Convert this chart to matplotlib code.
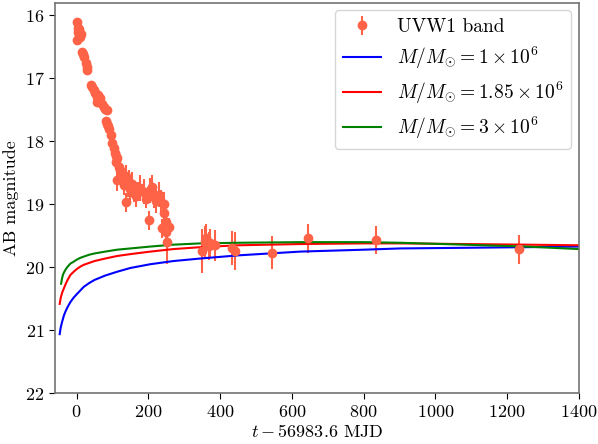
import numpy as np
import matplotlib
matplotlib.use('Agg')
import matplotlib.pyplot as plt

# Computer Modern look (LaTeX-like)
plt.rcParams['font.family'] = 'serif'
plt.rcParams['font.serif'] = ['cmr10', 'DejaVu Serif']
plt.rcParams['mathtext.fontset'] = 'cm'
plt.rcParams['axes.formatter.use_mathtext'] = True
plt.rcParams['axes.unicode_minus'] = False

# UVW1 photometry: time since 56983.6 MJD, AB magnitude, error
t_uvw1 = [0, 2, 3, 5, 6, 8, 11, 13, 16, 19, 22, 25, 28, 30, 41, 44, 48, 52, 56, 58,
          59, 65, 70, 76, 80, 81, 84, 86, 88, 90, 97, 100, 103, 106, 110, 111, 113, 114,
          118, 121, 124, 128, 130, 133, 137, 139, 144, 147, 150, 155, 160, 165, 172, 178,
          187, 193, 201, 205, 211, 215, 222, 230, 235, 239, 243, 245, 248, 250, 252, 257,
          350, 358, 362, 368, 373, 387, 434, 443, 545, 645, 835, 1234]
mag_uvw1 = [16.11, 16.40, 16.20, 16.26, 16.21, 16.31, 16.34, 16.29, 16.58, 16.62, 16.66,
            16.76, 16.82, 16.87, 17.11, 17.14, 17.19, 17.24, 17.30, 17.37, 17.27, 17.32,
            17.41, 17.45, 17.48, 17.67, 17.51, 17.72, 17.76, 17.80, 17.90, 18.03, 18.10,
            18.19, 18.24, 18.33, 18.61, 18.27, 18.40, 18.46, 18.52, 18.56, 18.62, 18.70,
            18.55, 18.97, 18.70, 18.64, 18.76, 18.68, 18.82, 18.86, 18.80, 18.74, 18.80,
            18.91, 19.25, 18.78, 18.72, 18.88, 18.95, 18.85, 18.96, 19.38, 19.14, 19.00,
            19.28, 19.44, 19.60, 19.36,
            19.74, 19.60, 19.54, 19.66, 19.62, 19.65, 19.70, 19.74, 19.77, 19.54, 19.57, 19.71]
err_uvw1 = [0.03] * 14 + [0.04] * 10 + [0.05] * 6 + [0.06, 0.08, 0.08, 0.10, 0.10, 0.12,
            0.18, 0.10, 0.12, 0.15, 0.15, 0.15, 0.15, 0.15, 0.18, 0.15, 0.18, 0.18, 0.20,
            0.20, 0.15, 0.18, 0.15, 0.20, 0.20, 0.15, 0.15, 0.20, 0.18, 0.18, 0.18, 0.20,
            0.18, 0.15, 0.15, 0.20, 0.15, 0.15, 0.35, 0.15,
            0.35, 0.25, 0.22, 0.22, 0.23, 0.25, 0.27, 0.30, 0.26, 0.23, 0.22, 0.23]

# model light curves
t_m1 = [-47, -44, -40, -35, -30, -25, -17, -8, 0, 10, 20, 35, 50, 80, 113, 150, 206, 270, 345, 450, 624, 800, 902, 1078, 1250, 1400]
mag_m1 = [21.06, 20.95, 20.86, 20.76, 20.69, 20.63, 20.55, 20.48, 20.43, 20.37, 20.31, 20.25, 20.20, 20.13, 20.07, 20.01, 19.95, 19.90, 19.86, 19.81, 19.75, 19.72, 19.70, 19.69, 19.68, 19.67]
t_m185 = [-47, -44, -40, -35, -30, -25, -17, -8, 0, 10, 20, 35, 50, 80, 113, 150, 206, 270, 345, 450, 624, 800, 902, 1078, 1250, 1400]
mag_m185 = [20.58, 20.48, 20.40, 20.33, 20.26, 20.20, 20.12, 20.07, 20.03, 19.99, 19.96, 19.93, 19.90, 19.86, 19.82, 19.79, 19.75, 19.71, 19.68, 19.65, 19.63, 19.62, 19.62, 19.63, 19.64, 19.65]
t_m3 = [-43, -41, -38, -35, -30, -25, -17, -8, 0, 10, 20, 35, 50, 80, 113, 150, 206, 270, 345, 450, 624, 800, 902, 1078, 1250, 1400]
mag_m3 = [20.26, 20.19, 20.12, 20.08, 20.03, 19.99, 19.94, 19.91, 19.88, 19.85, 19.83, 19.80, 19.78, 19.75, 19.72, 19.70, 19.67, 19.64, 19.62, 19.61, 19.60, 19.60, 19.61, 19.64, 19.67, 19.71]

fig = plt.figure(figsize=(5.98, 4.44), dpi=100)
ax = fig.add_axes([0.092, 0.114, 0.876, 0.880])

data = ax.errorbar(t_uvw1, mag_uvw1, yerr=err_uvw1, fmt='o', color='tomato', ms=6,
                   elinewidth=1.5, capsize=0, label='UVW1 band')
l1, = ax.plot(t_m1, mag_m1, color='blue', lw=1.5, label=r'$M/M_{\odot} = 1\times10^6$')
l2, = ax.plot(t_m185, mag_m185, color='red', lw=1.5, label=r'$M/M_{\odot} = 1.85\times10^6$')
l3, = ax.plot(t_m3, mag_m3, color='green', lw=1.5, label=r'$M/M_{\odot} = 3\times10^6$')

ax.set_xlim(-60, 1400)
ax.set_ylim(22, 15.8)
ax.set_yticks([16, 17, 18, 19, 20, 21, 22])
ax.set_xticks([0, 200, 400, 600, 800, 1000, 1200, 1400])
ax.tick_params(labelsize=13, direction='out', length=4)

for s in ax.spines.values():
    s.set_color('0.45')
    s.set_linewidth(1.2)

ax.set_xlabel(r'$t - 56983.6$ MJD', fontsize=13, labelpad=2)
ax.set_ylabel('AB magnitude', fontsize=13)

# Customize the legend, data entry first
leg = ax.legend([data, l1, l2, l3], [data.get_label(), l1.get_label(), l2.get_label(), l3.get_label()],
                loc='upper right', fontsize=14, fancybox=True, framealpha=0.8,
                labelspacing=0.45, borderaxespad=0.4)

fig.savefig('out.png', dpi=100)
